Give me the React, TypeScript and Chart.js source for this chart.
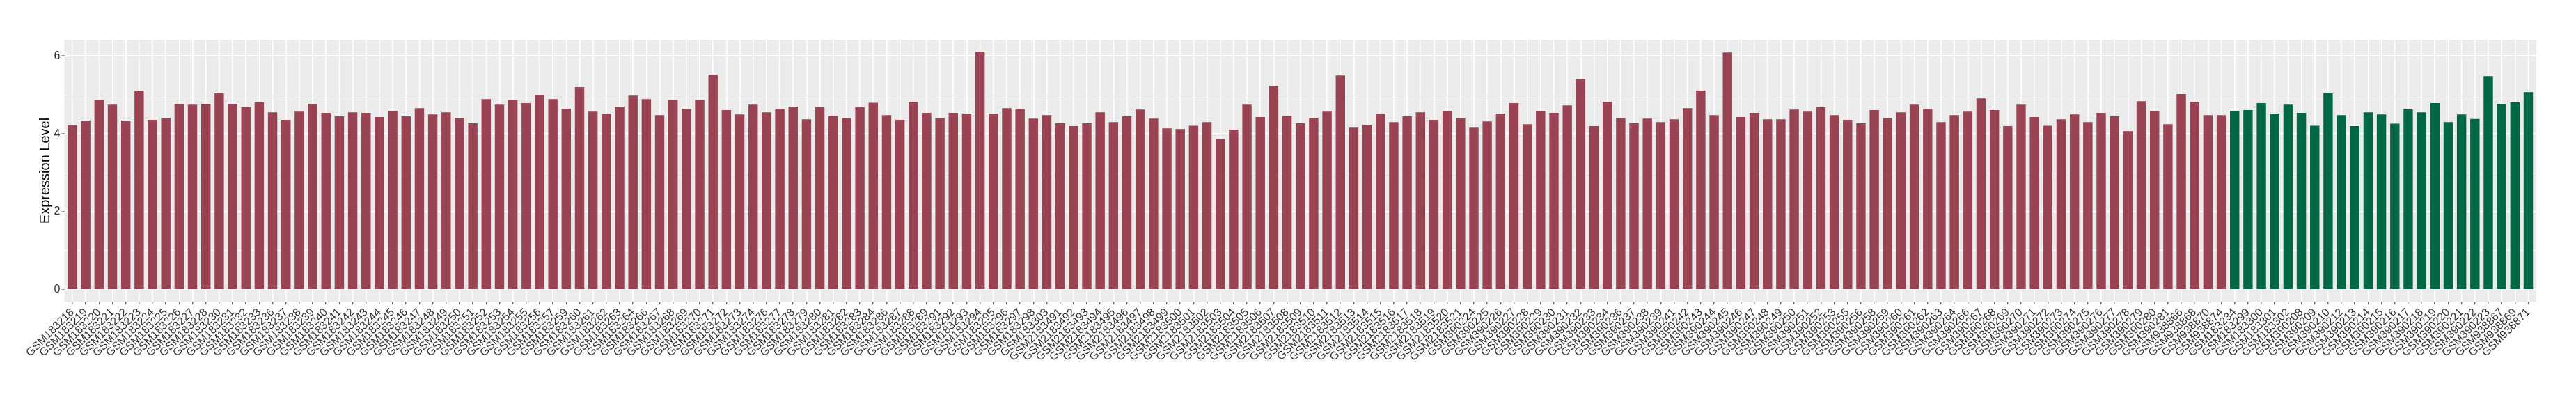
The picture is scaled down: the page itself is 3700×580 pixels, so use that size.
import React, { useEffect, useRef } from "react";
import { Chart, registerables } from "chart.js";

Chart.register(...registerables);

const caseSamples: string[] = [
  "GSM183218", "GSM183219", "GSM183220", "GSM183221", "GSM183222", "GSM183223", "GSM183224", "GSM183225",
  "GSM183226", "GSM183227", "GSM183228", "GSM183230", "GSM183231", "GSM183232", "GSM183233", "GSM183236",
  "GSM183237", "GSM183238", "GSM183239", "GSM183240", "GSM183241", "GSM183242", "GSM183243", "GSM183244",
  "GSM183245", "GSM183246", "GSM183247", "GSM183248", "GSM183249", "GSM183250", "GSM183251", "GSM183252",
  "GSM183253", "GSM183254", "GSM183255", "GSM183256", "GSM183257", "GSM183259", "GSM183260", "GSM183261",
  "GSM183262", "GSM183263", "GSM183264", "GSM183266", "GSM183267", "GSM183268", "GSM183269", "GSM183270",
  "GSM183271", "GSM183272", "GSM183273", "GSM183274", "GSM183276", "GSM183277", "GSM183278", "GSM183279",
  "GSM183280", "GSM183281", "GSM183282", "GSM183283", "GSM183284", "GSM183286", "GSM183287", "GSM183288",
  "GSM183289", "GSM183291", "GSM183292", "GSM183293", "GSM183294", "GSM183295", "GSM183296", "GSM183297",
  "GSM183298", "GSM183303",
  "GSM2183491", "GSM2183492", "GSM2183493", "GSM2183494", "GSM2183495", "GSM2183496", "GSM2183497", "GSM2183498",
  "GSM2183499", "GSM2183500", "GSM2183501", "GSM2183502", "GSM2183503", "GSM2183504", "GSM2183505", "GSM2183506",
  "GSM2183507", "GSM2183508", "GSM2183509", "GSM2183510", "GSM2183511", "GSM2183512", "GSM2183513", "GSM2183514",
  "GSM2183515", "GSM2183516", "GSM2183517", "GSM2183518", "GSM2183519", "GSM2183520", "GSM2183521",
  "GSM390224", "GSM390225", "GSM390226", "GSM390227", "GSM390228", "GSM390229", "GSM390230", "GSM390231",
  "GSM390232", "GSM390233", "GSM390234", "GSM390236", "GSM390237", "GSM390238", "GSM390239", "GSM390241",
  "GSM390242", "GSM390243", "GSM390244", "GSM390245", "GSM390246", "GSM390247", "GSM390248", "GSM390249",
  "GSM390250", "GSM390251", "GSM390252", "GSM390253", "GSM390255", "GSM390256", "GSM390258", "GSM390259",
  "GSM390260", "GSM390261", "GSM390262", "GSM390263", "GSM390264", "GSM390266", "GSM390267", "GSM390268",
  "GSM390269", "GSM390270", "GSM390271", "GSM390272", "GSM390273", "GSM390274", "GSM390275", "GSM390276",
  "GSM390277", "GSM390278", "GSM390279", "GSM390280", "GSM390281",
  "GSM938866", "GSM938868", "GSM938870", "GSM938874",
];

const caseValues: number[] = [
  4.23, 4.34, 4.87, 4.75, 4.34, 5.11, 4.36, 4.41, 4.77, 4.75, 4.77, 5.04, 4.77, 4.68, 4.81, 4.55,
  4.36, 4.57, 4.77, 4.54, 4.45, 4.55, 4.54, 4.43, 4.59, 4.45, 4.66, 4.5, 4.55, 4.41, 4.27, 4.89,
  4.75, 4.86, 4.79, 5.0, 4.89, 4.64, 5.2, 4.57, 4.52, 4.7, 4.98, 4.89, 4.48, 4.875, 4.64, 4.875,
  5.52, 4.61, 4.5, 4.75, 4.55, 4.64, 4.7, 4.375, 4.68, 4.46, 4.41, 4.68, 4.8, 4.48, 4.36, 4.82,
  4.54, 4.41, 4.54, 4.52, 6.11, 4.52, 4.66, 4.64, 4.39, 4.48,
  4.27, 4.2, 4.27, 4.55, 4.3, 4.45, 4.625, 4.39, 4.14, 4.125, 4.21, 4.3, 3.875, 4.11, 4.75, 4.43,
  5.23, 4.46, 4.27, 4.41, 4.57, 5.5, 4.16, 4.23, 4.52, 4.3, 4.45, 4.55, 4.36, 4.59, 4.41,
  4.16, 4.32, 4.52, 4.79, 4.25, 4.59, 4.54, 4.73, 5.41, 4.2, 4.82, 4.41, 4.27, 4.39, 4.3, 4.375,
  4.66, 5.11, 4.48, 6.09, 4.43, 4.54, 4.375, 4.375, 4.625, 4.57, 4.68, 4.48, 4.36, 4.27, 4.61, 4.41,
  4.55, 4.75, 4.64, 4.3, 4.48, 4.57, 4.91, 4.61, 4.2, 4.75, 4.43, 4.21, 4.375, 4.5, 4.3, 4.54,
  4.45, 4.07, 4.84, 4.59, 4.25,
  5.02, 4.82, 4.48, 4.48,
];

const controlSamples: string[] = [
  "GSM183234", "GSM183299", "GSM183300", "GSM183301", "GSM183302",
  "GSM390208", "GSM390209", "GSM390210", "GSM390212", "GSM390213", "GSM390214", "GSM390215", "GSM390216",
  "GSM390217", "GSM390218", "GSM390219", "GSM390220", "GSM390221", "GSM390222", "GSM390223",
  "GSM938867", "GSM938869", "GSM938871",
];

const controlValues: number[] = [
  4.59, 4.61, 4.79, 4.52, 4.75,
  4.54, 4.21, 5.04, 4.48, 4.2, 4.55, 4.5, 4.26, 4.63, 4.55, 4.79, 4.3, 4.5, 4.38, 5.48,
  4.77, 4.81, 5.07,
];

const yTickValues: number[] = [0, 1, 2, 3, 4, 5, 6];
const yTickLabels: string[] = ["0", "", "2", "", "4", "", "6"];

const caseColor = "#9A4352";
const controlColor = "#006847";
const FONT = "'Liberation Sans', Arial, Helvetica, sans-serif";

export default function App() {
  const ref = useRef<HTMLCanvasElement>(null);

  useEffect(() => {
    if (!ref.current) return;
    const samples = [...caseSamples, ...controlSamples];
    const values = [...caseValues, ...controlValues];
    const colors = [
      ...caseValues.map(() => caseColor),
      ...controlValues.map(() => controlColor),
    ];
    const n = samples.length;
    const maxV = Math.max(...values);

    const panelBg = {
      id: "panelBg",
      beforeDraw(chart: any) {
        const { ctx, chartArea: a } = chart;
        ctx.save();
        ctx.fillStyle = "#EBEBEB";
        ctx.fillRect(a.left, a.top, a.right - a.left, a.bottom - a.top);
        ctx.restore();
      },
    };

    const chart = new Chart(ref.current, {
      type: "bar",
      data: {
        datasets: [
          {
            data: values.map((v, i) => ({ x: i, y: v })),
            backgroundColor: colors,
            borderWidth: 0,
            barPercentage: 0.7,
            categoryPercentage: 1,
          },
        ],
      },
      options: {
        animation: false,
        responsive: false,
        devicePixelRatio: 1,
        layout: { padding: { left: 0, top: 57, right: 57, bottom: 0 } },
        plugins: {
          legend: { display: false },
          tooltip: { enabled: false },
        },
        scales: {
          x: {
            type: "linear",
            min: -0.6,
            max: n - 1 + 0.6,
            offset: false,
            afterBuildTicks: (s: any) => {
              s.ticks = samples.map((_, i) => ({ value: i }));
            },
            afterFit: (s: any) => {
              s.height = 147;
            },
            grid: {
              offset: false,
              color: "#FFFFFF",
              lineWidth: 1.6,
              tickColor: "#333333",
              tickLength: 4,
              tickWidth: 1,
            },
            border: { display: false },
            ticks: {
              autoSkip: false,
              minRotation: 45,
              maxRotation: 45,
              padding: 2,
              color: "#303030",
              font: { family: FONT, size: 16 },
              callback: (v: any) => samples[Math.round(Number(v))] ?? "",
            },
          },
          y: {
            type: "linear",
            min: -0.05 * maxV,
            max: 1.05 * maxV,
            afterBuildTicks: (s: any) => {
              s.ticks = yTickValues.map((v) => ({ value: v }));
            },
            afterFit: (s: any) => {
              s.width = 92.5;
            },
            grid: {
              color: "#FFFFFF",
              lineWidth: (ctx: any) => (ctx.tick && ctx.tick.value % 2 === 0 ? 2 : 1),
              tickColor: (ctx: any) =>
                ctx.tick && ctx.tick.value % 2 === 0 ? "#333333" : "rgba(0,0,0,0)",
              tickLength: 4,
              tickWidth: 1,
            },
            border: { display: false },
            ticks: {
              padding: 2,
              color: "#303030",
              font: { family: FONT, size: 16 },
              callback: (_v: any, i: number) => yTickLabels[i] ?? "",
            },
            title: {
              display: true,
              text: "Expression Level",
              color: "#000000",
              font: { family: FONT, size: 20 },
              padding: { top: 53, bottom: 0 },
            },
          },
        },
      } as any,
      plugins: [panelBg],
    });

    return () => chart.destroy();
  }, []);

  return (
    <div
      style={{
        position: "absolute",
        left: 0,
        top: 0,
        width: 3700,
        height: 580,
        background: "#FFFFFF",
      }}
    >
      <canvas
        ref={ref}
        width={3700}
        height={580}
        style={{ width: 3700, height: 580, display: "block" }}
      />
    </div>
  );
}
